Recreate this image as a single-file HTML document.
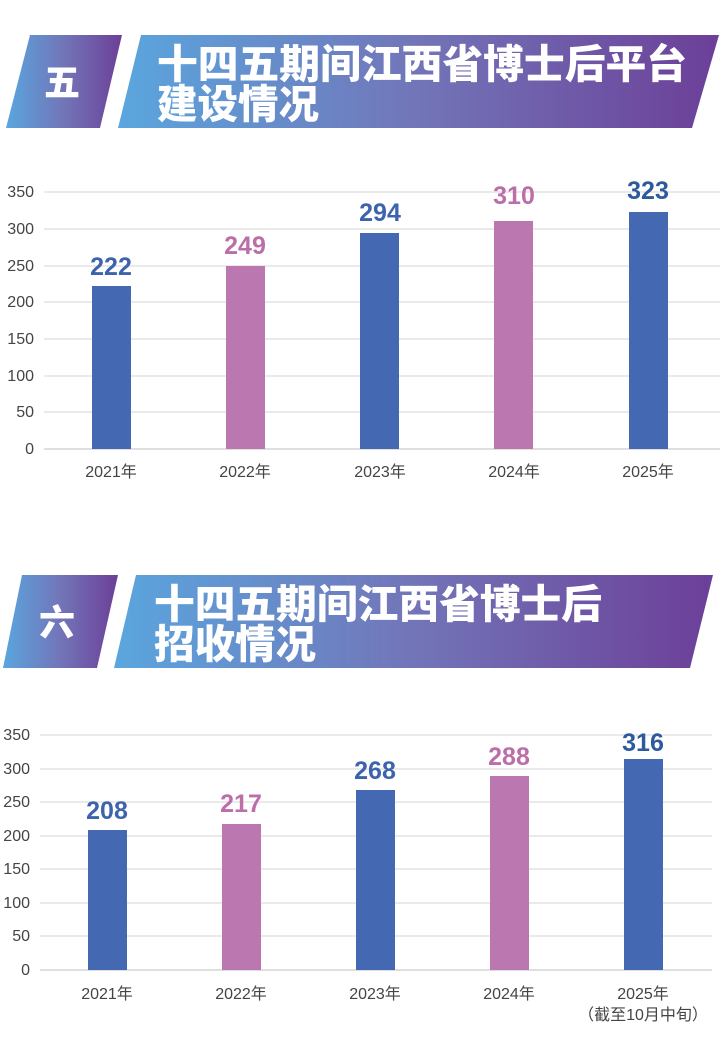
<!DOCTYPE html>
<html><head><meta charset="utf-8"><style>
body{margin:0;background:#fff;}
text{font-family:"Liberation Sans","Noto Sans CJK SC",sans-serif;}
.t{font-family:"Noto Sans CJK SC","WenQuanYi Zen Hei",sans-serif;font-weight:900;fill:#fff;}
.ax{font-size:16px;fill:#444;}
.v{font-size:25px;font-weight:bold;}
</style></head><body>
<svg width="722" height="1047" viewBox="0 0 722 1047" xmlns="http://www.w3.org/2000/svg">
<defs>
<linearGradient id="g" x1="0" x2="1" y1="0" y2="0"><stop offset="0" stop-color="#5aa6de"/><stop offset="0.5" stop-color="#7275b8"/><stop offset="1" stop-color="#6c3f98"/></linearGradient>
</defs>
<!-- banner 1 -->
<polygon points="30,35 122,35 100,128 6,128" fill="url(#g)"/>
<polygon points="141,35 719,35 692,128 118,128" fill="url(#g)"/>
<text class="t" x="62" y="95" font-size="36" text-anchor="middle">五</text>
<text class="t" x="157" y="78" font-size="40" textLength="530" lengthAdjust="spacingAndGlyphs">十四五期间江西省博士后平台</text>
<text class="t" x="157" y="118" font-size="40" textLength="162" lengthAdjust="spacingAndGlyphs">建设情况</text>
<!-- chart 1 -->
<g stroke="#ddd" stroke-width="1.2">
<line x1="44" x2="720" y1="192" y2="192"/><line x1="44" x2="720" y1="229" y2="229"/><line x1="44" x2="720" y1="266" y2="266"/><line x1="44" x2="720" y1="302" y2="302"/><line x1="44" x2="720" y1="339" y2="339"/><line x1="44" x2="720" y1="376" y2="376"/><line x1="44" x2="720" y1="412" y2="412"/><line x1="44" x2="720" y1="449" y2="449" stroke="#ccc"/>
</g>
<g class="ax" text-anchor="end">
<text x="34" y="197">350</text><text x="34" y="234">300</text><text x="34" y="271">250</text><text x="34" y="307">200</text><text x="34" y="344">150</text><text x="34" y="381">100</text><text x="34" y="417">50</text><text x="34" y="454">0</text>
</g>
<rect x="92" y="286" width="39" height="163" fill="#4468b2"/>
<rect x="226" y="266" width="39" height="183" fill="#bb78b0"/>
<rect x="360" y="233" width="39" height="216" fill="#4468b2"/>
<rect x="494" y="221" width="39" height="228" fill="#bb78b0"/>
<rect x="629" y="212" width="39" height="237" fill="#4468b2"/>
<g class="v" text-anchor="middle">
<text x="111" y="275" fill="#3e63ad">222</text><text x="245" y="254" fill="#bb6ea8">249</text><text x="380" y="221" fill="#3e63ad">294</text><text x="514" y="204" fill="#bb6ea8">310</text><text x="648" y="199" fill="#2c5a9c">323</text>
</g>
<g class="ax" text-anchor="middle">
<text x="111" y="477">2021年</text><text x="245" y="477">2022年</text><text x="380" y="477">2023年</text><text x="514" y="477">2024年</text><text x="648" y="477">2025年</text>
</g>
<!-- banner 2 -->
<polygon points="22,575 118,575 97,668 3,668" fill="url(#g)"/>
<polygon points="136,575 713,575 690,668 114,668" fill="url(#g)"/>
<text class="t" x="57" y="635" font-size="36" text-anchor="middle">六</text>
<text class="t" x="154" y="618" font-size="40" textLength="448" lengthAdjust="spacingAndGlyphs">十四五期间江西省博士后</text>
<text class="t" x="154" y="658" font-size="40" textLength="162" lengthAdjust="spacingAndGlyphs">招收情况</text>
<!-- chart 2 -->
<g stroke="#ddd" stroke-width="1.2">
<line x1="40" x2="712" y1="735" y2="735"/><line x1="40" x2="712" y1="769" y2="769"/><line x1="40" x2="712" y1="802" y2="802"/><line x1="40" x2="712" y1="836" y2="836"/><line x1="40" x2="712" y1="869" y2="869"/><line x1="40" x2="712" y1="903" y2="903"/><line x1="40" x2="712" y1="936" y2="936"/><line x1="40" x2="712" y1="970" y2="970" stroke="#ccc"/>
</g>
<g class="ax" text-anchor="end">
<text x="30" y="740">350</text><text x="30" y="774">300</text><text x="30" y="807">250</text><text x="30" y="841">200</text><text x="30" y="874">150</text><text x="30" y="908">100</text><text x="30" y="941">50</text><text x="30" y="975">0</text>
</g>
<rect x="88" y="830" width="39" height="140" fill="#4468b2"/>
<rect x="222" y="824" width="39" height="146" fill="#bb78b0"/>
<rect x="356" y="790" width="39" height="180" fill="#4468b2"/>
<rect x="490" y="776" width="39" height="194" fill="#bb78b0"/>
<rect x="624" y="759" width="39" height="211" fill="#4468b2"/>
<g class="v" text-anchor="middle">
<text x="107" y="819" fill="#3e63ad">208</text><text x="241" y="812" fill="#bb6ea8">217</text><text x="375" y="779" fill="#3e63ad">268</text><text x="509" y="765" fill="#bb6ea8">288</text><text x="643" y="751" fill="#2c5a9c">316</text>
</g>
<g class="ax" text-anchor="middle">
<text x="107" y="999">2021年</text><text x="241" y="999">2022年</text><text x="375" y="999">2023年</text><text x="509" y="999">2024年</text><text x="643" y="999">2025年</text><text x="643" y="1020">（截至10月中旬）</text>
</g>
</svg>
</body></html>
